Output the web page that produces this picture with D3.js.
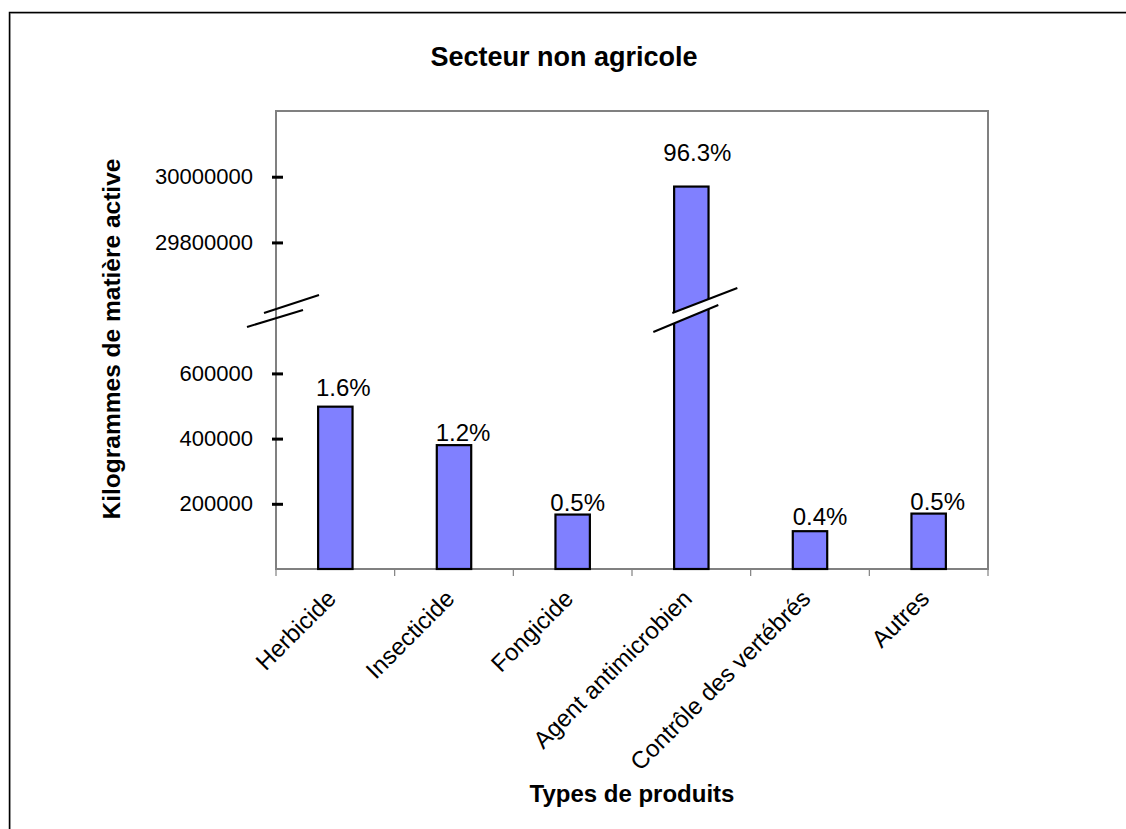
<!DOCTYPE html>
<html>
<head>
<meta charset="utf-8">
<script src="https://cdn.jsdelivr.net/npm/d3@7"></script>
<style>
  body { margin: 0; background: #fff; }
  svg { display: block; font-family: "Liberation Sans", Arial, sans-serif; }
</style>
</head>
<body>
<div id="chart"></div>
<script>
const categories = ["Herbicide", "Insecticide", "Fongicide", "Agent antimicrobien", "Contrôle des vertébrés", "Autres"]
const values = [498000, 380000, 167000, 29970000, 116000, 170000]
const shares = ["1.6%", "1.2%", "0.5%", "96.3%", "0.4%", "0.5%"]
const yTickValues = [200000, 400000, 600000, 29800000, 30000000]
// broken axis: 0..breakLow below the cut, breakHigh..yMax above it
const breakLow = 770000
const breakHigh = 29570000
const yMax = 30200000

// hand placed share labels in the original: [dx, lift above bar]
const labelNudge = [[8, 11], [9, 4], [5, 4], [6, 26], [10, 6], [9, 4]]

const width = 1126
const height = 829
const plot = { left: 276, right: 988, top: 111, bottom: 569 }
const yCut = 318

const svg = d3.select("#chart")
  .append("svg")
    .attr("width", width)
    .attr("height", height)

// chart area frame (runs off the page on the right and bottom)
svg.append("rect")
  .attr("x", 10.5)
  .attr("y", 13.5)
  .attr("width", 1300)
  .attr("height", 1000)
  .attr("fill", "none")
  .attr("stroke", "#c0c0c0")
  .attr("stroke-width", 1)
svg.append("rect")
  .attr("x", 9.5)
  .attr("y", 12.5)
  .attr("width", 1300)
  .attr("height", 1000)
  .attr("fill", "none")
  .attr("stroke", "#000")
  .attr("stroke-width", 1.5)

const x = d3.scaleBand()
  .domain(categories)
  .range([plot.left, plot.right])
  .padding(0)

const y = d3.scaleLinear()
  .domain([0, breakLow, breakHigh, yMax])
  .range([plot.bottom, yCut, yCut, plot.top])

const barW = x.bandwidth() * 0.29

// plot area border
svg.append("rect")
  .attr("x", plot.left)
  .attr("y", plot.top)
  .attr("width", plot.right - plot.left)
  .attr("height", plot.bottom - plot.top)
  .attr("fill", "none")
  .attr("stroke", "#808080")
  .attr("stroke-width", 2)

// category ticks between bands
const edges = categories.map(c => x(c)).concat([plot.right])
svg.append("g")
  .selectAll("line")
  .data(edges)
  .join("line")
    .attr("x1", d => d)
    .attr("x2", d => d)
    .attr("y1", plot.bottom)
    .attr("y2", plot.bottom + 7)
    .attr("stroke", "#808080")
    .attr("stroke-width", 1.2)

// y axis
const yAxis = svg.append("g")
  .attr("transform", `translate(${plot.left},0)`)
  .call(d3.axisLeft(y).tickValues(yTickValues).tickFormat(d3.format("d")).tickSize(0).tickPadding(23))
yAxis.select(".domain").remove()
yAxis.selectAll(".tick line")
  .attr("x1", -4)
  .attr("x2", 7)
  .attr("stroke", "#000")
  .attr("stroke-width", 3)
yAxis.selectAll(".tick text")
  .attr("font-size", 22)
  .attr("font-family", "Liberation Sans, Arial, sans-serif")
  .attr("fill", "#000")

// bars
svg.append("g")
  .selectAll("rect")
  .data(values)
  .join("rect")
    .attr("x", (d, i) => x(categories[i]) + x.bandwidth() / 2 - barW / 2)
    .attr("y", d => y(d))
    .attr("width", barW)
    .attr("height", d => y(0) - y(d))
    .attr("fill", "#8080ff")
    .attr("stroke", "#000")
    .attr("stroke-width", 2.2)

// break marks on the axis
const axisBreak = svg.append("g").attr("transform", `translate(${plot.left},${yCut})`)
axisBreak.append("line")
  .attr("x1", -12).attr("y1", -5).attr("x2", 43).attr("y2", -23)
  .attr("stroke", "#000").attr("stroke-width", 2)
axisBreak.append("line")
  .attr("x1", -29).attr("y1", 9).attr("x2", 27).attr("y2", -8)
  .attr("stroke", "#000").attr("stroke-width", 2)

// break marks on bars that cross the cut
values.forEach((v, i) => {
  if (v <= breakHigh) return
  const cx = x(categories[i]) + x.bandwidth() / 2
  const g = svg.append("g").attr("transform", `translate(${cx},${yCut})`)
  g.append("polygon")
    .attr("points", "-19,-5 46,-30 27,-13 -38,14")
    .attr("fill", "#fff")
  g.append("line")
    .attr("x1", -19).attr("y1", -5).attr("x2", 46).attr("y2", -30)
    .attr("stroke", "#000").attr("stroke-width", 2)
  g.append("line")
    .attr("x1", -38).attr("y1", 14).attr("x2", 27).attr("y2", -13)
    .attr("stroke", "#000").attr("stroke-width", 2)
})

// share labels
svg.append("g")
  .selectAll("text")
  .data(shares)
  .join("text")
    .attr("x", (d, i) => x(categories[i]) + x.bandwidth() / 2 + labelNudge[i][0])
    .attr("y", (d, i) => y(values[i]) - labelNudge[i][1])
    .attr("text-anchor", "middle")
    .attr("font-size", 24)
    .attr("fill", "#000")
    .text(d => d)

// category labels
svg.append("g")
  .selectAll("text")
  .data(categories)
  .join("text")
    .attr("transform", d => `translate(${x(d) + x.bandwidth() / 2 + 2},${plot.bottom + 31}) rotate(-45)`)
    .attr("text-anchor", "end")
    .attr("font-size", 24)
    .attr("fill", "#000")
    .text(d => d)

// titles
svg.append("text")
  .attr("x", 564)
  .attr("y", 66)
  .attr("text-anchor", "middle")
  .attr("font-size", 27)
  .attr("font-weight", "bold")
  .text("Secteur non agricole")

svg.append("text")
  .attr("x", (plot.left + plot.right) / 2)
  .attr("y", 802)
  .attr("text-anchor", "middle")
  .attr("font-size", 24)
  .attr("font-weight", "bold")
  .text("Types de produits")

svg.append("text")
  .attr("transform", `translate(120,339) rotate(-90)`)
  .attr("text-anchor", "middle")
  .attr("font-size", 24.5)
  .attr("font-weight", "bold")
  .text("Kilogrammes de matière active")
</script>
</body>
</html>
